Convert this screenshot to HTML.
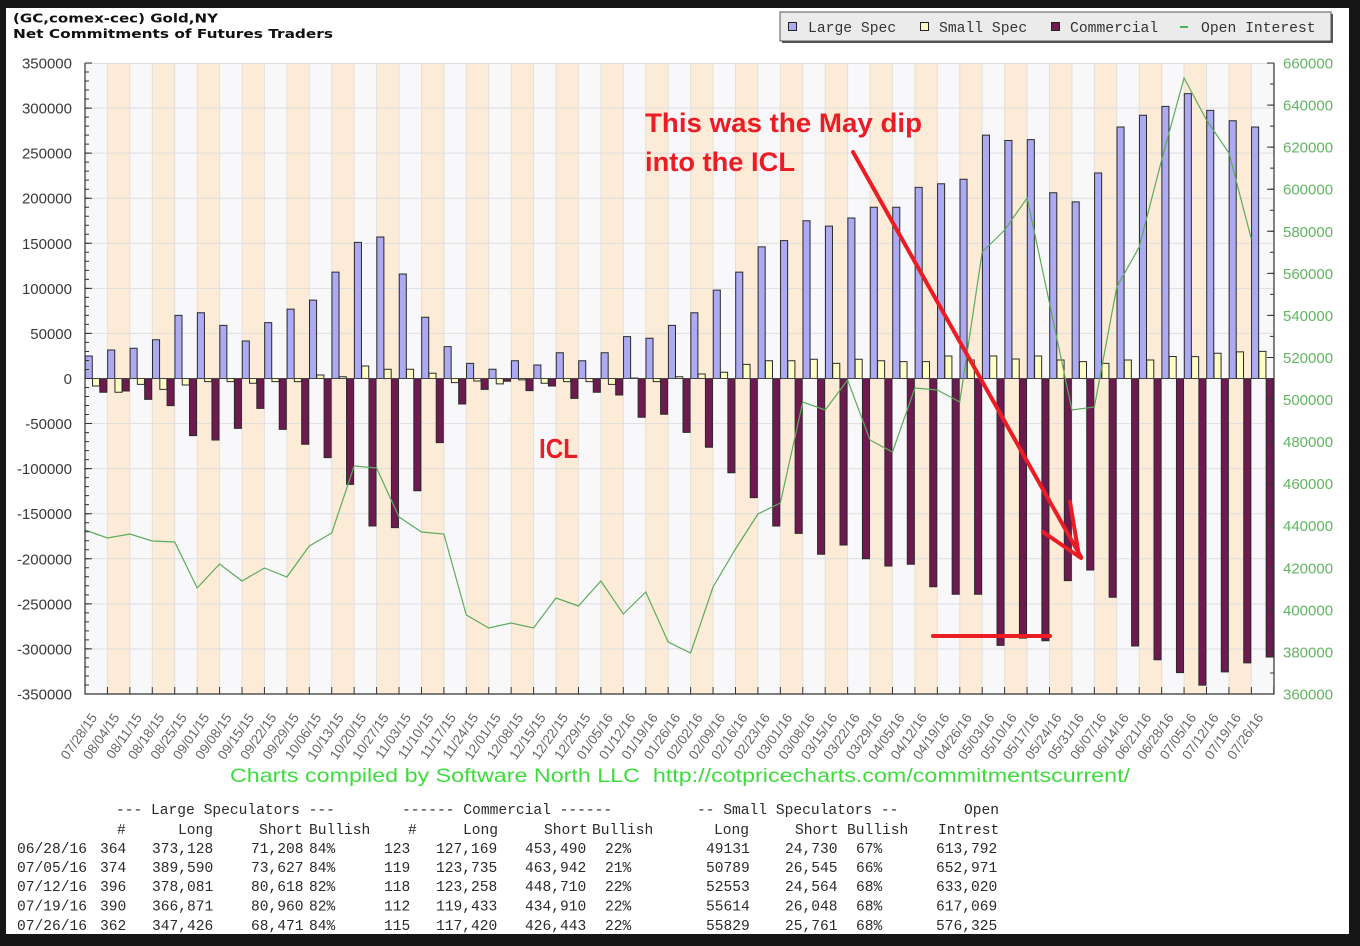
<!DOCTYPE html>
<html><head><meta charset="utf-8"><style>
html,body{margin:0;padding:0;background:#161616;}
svg{display:block}
.b rect{vector-effect:non-scaling-stroke;stroke:#2a2a2a;stroke-width:1}
.oi{vector-effect:non-scaling-stroke}
text{font-family:"Liberation Sans",sans-serif}
.mono{font-family:"Liberation Mono",monospace}
</style></head><body>
<svg width="1360" height="946" viewBox="0 0 1360 946" xmlns="http://www.w3.org/2000/svg">
<rect x="0" y="0" width="1360" height="946" fill="#161616"/>
<rect x="6" y="8" width="1343" height="926" fill="#ffffff"/>

<!-- title -->
<text x="13" y="22.5" style="font-family:'DejaVu Sans',sans-serif" font-weight="bold" font-size="12" fill="#111" textLength="205" lengthAdjust="spacingAndGlyphs">(GC,comex-cec) Gold,NY</text>
<text x="13" y="38" style="font-family:'DejaVu Sans',sans-serif" font-weight="bold" font-size="12" fill="#111" textLength="320" lengthAdjust="spacingAndGlyphs">Net Commitments of Futures Traders</text>

<!-- legend -->
<rect x="782" y="14" width="551" height="29" fill="#555"/>
<rect x="780" y="12" width="551" height="29" fill="#ebebeb" stroke="#555" stroke-width="1"/>
<rect x="788.5" y="22.5" width="8" height="8" fill="#abaaf2" stroke="#222"/>
<rect x="920.5" y="22.5" width="8" height="8" fill="#fdfdc4" stroke="#222"/>
<rect x="1051.5" y="22.5" width="8" height="8" fill="#6e1a50" stroke="#222"/>
<line x1="1180" y1="27" x2="1188" y2="27" stroke="#4caf50" stroke-width="2"/>
<g class="mono" font-size="14.7" fill="#333">
<text x="808" y="32" class="mono">Large Spec</text>
<text x="939" y="32" class="mono">Small Spec</text>
<text x="1070" y="32" class="mono">Commercial</text>
<text x="1201" y="32" class="mono">Open Interest</text>
</g>

<!-- plot background -->
<rect x="85" y="63" width="1189" height="631" fill="#f8f8fa"/>
<line x1="107.43" y1="378.5" x2="1274" y2="378.5" stroke="#fcebd6" stroke-width="631" stroke-dasharray="22.43 22.43"/>
<line x1="84.5" y1="378.5" x2="1274" y2="378.5" stroke="#e4e0da" stroke-width="631" stroke-dasharray="1 21.43"/>
<g stroke="#dedede" stroke-width="1">
<line x1="85" x2="1274" y1="63.5" y2="63.5"/>
<line x1="85" x2="1274" y1="108.07" y2="108.07"/>
<line x1="85" x2="1274" y1="153.14" y2="153.14"/>
<line x1="85" x2="1274" y1="198.21" y2="198.21"/>
<line x1="85" x2="1274" y1="243.29" y2="243.29"/>
<line x1="85" x2="1274" y1="288.36" y2="288.36"/>
<line x1="85" x2="1274" y1="333.43" y2="333.43"/>
<line x1="85" x2="1274" y1="423.57" y2="423.57"/>
<line x1="85" x2="1274" y1="468.64" y2="468.64"/>
<line x1="85" x2="1274" y1="513.71" y2="513.71"/>
<line x1="85" x2="1274" y1="558.79" y2="558.79"/>
<line x1="85" x2="1274" y1="603.86" y2="603.86"/>
<line x1="85" x2="1274" y1="648.93" y2="648.93"/>
</g>

<!-- bars -->
<g class="b" transform="translate(85 378.5) scale(22.43 -0.9014)">
<g fill="#abaaf2">
<rect x="0.01" y="0" width=".315" height="25"/>
<rect x="1.01" y="0" width=".315" height="31.6"/>
<rect x="2.01" y="0" width=".315" height="33.5"/>
<rect x="3.01" y="0" width=".315" height="43"/>
<rect x="4.01" y="0" width=".315" height="70"/>
<rect x="5.01" y="0" width=".315" height="73"/>
<rect x="6.01" y="0" width=".315" height="59"/>
<rect x="7.01" y="0" width=".315" height="41.6"/>
<rect x="8.01" y="0" width=".315" height="62"/>
<rect x="9.01" y="0" width=".315" height="77"/>
<rect x="10.01" y="0" width=".315" height="87"/>
<rect x="11.01" y="0" width=".315" height="118"/>
<rect x="12.01" y="0" width=".315" height="151"/>
<rect x="13.01" y="0" width=".315" height="157"/>
<rect x="14.01" y="0" width=".315" height="116"/>
<rect x="15.01" y="0" width=".315" height="68"/>
<rect x="16.01" y="0" width=".315" height="35.3"/>
<rect x="17.01" y="0" width=".315" height="16.8"/>
<rect x="18.01" y="0" width=".315" height="10.2"/>
<rect x="19.01" y="0" width=".315" height="19.7"/>
<rect x="20.01" y="0" width=".315" height="15"/>
<rect x="21.01" y="0" width=".315" height="28.6"/>
<rect x="22.01" y="0" width=".315" height="19.7"/>
<rect x="23.01" y="0" width=".315" height="28.6"/>
<rect x="24.01" y="0" width=".315" height="46.4"/>
<rect x="25.01" y="0" width=".315" height="44.6"/>
<rect x="26.01" y="0" width=".315" height="59"/>
<rect x="27.01" y="0" width=".315" height="73"/>
<rect x="28.01" y="0" width=".315" height="98"/>
<rect x="29.01" y="0" width=".315" height="118"/>
<rect x="30.01" y="0" width=".315" height="146"/>
<rect x="31.01" y="0" width=".315" height="153"/>
<rect x="32.01" y="0" width=".315" height="175"/>
<rect x="33.01" y="0" width=".315" height="169"/>
<rect x="34.01" y="0" width=".315" height="178"/>
<rect x="35.01" y="0" width=".315" height="190"/>
<rect x="36.01" y="0" width=".315" height="190"/>
<rect x="37.01" y="0" width=".315" height="212"/>
<rect x="38.01" y="0" width=".315" height="216"/>
<rect x="39.01" y="0" width=".315" height="221"/>
<rect x="40.01" y="0" width=".315" height="270"/>
<rect x="41.01" y="0" width=".315" height="264"/>
<rect x="42.01" y="0" width=".315" height="265"/>
<rect x="43.01" y="0" width=".315" height="206"/>
<rect x="44.01" y="0" width=".315" height="196"/>
<rect x="45.01" y="0" width=".315" height="228"/>
<rect x="46.01" y="0" width=".315" height="279"/>
<rect x="47.01" y="0" width=".315" height="292"/>
<rect x="48.01" y="0" width=".315" height="301.9"/>
<rect x="49.01" y="0" width=".315" height="316"/>
<rect x="50.01" y="0" width=".315" height="297.5"/>
<rect x="51.01" y="0" width=".315" height="285.9"/>
<rect x="52.01" y="0" width=".315" height="279"/>
</g>
<g fill="#fdfdc4">
<rect x="0.335" y="-8.3" width=".315" height="8.3"/>
<rect x="1.335" y="-15.3" width=".315" height="15.3"/>
<rect x="2.335" y="-6.5" width=".315" height="6.5"/>
<rect x="3.335" y="-12" width=".315" height="12"/>
<rect x="4.335" y="-7.2" width=".315" height="7.2"/>
<rect x="5.335" y="-3.5" width=".315" height="3.5"/>
<rect x="6.335" y="-3.5" width=".315" height="3.5"/>
<rect x="7.335" y="-5.3" width=".315" height="5.3"/>
<rect x="8.335" y="-3.5" width=".315" height="3.5"/>
<rect x="9.335" y="-3.5" width=".315" height="3.5"/>
<rect x="10.335" y="0" width=".315" height="3.9"/>
<rect x="11.335" y="0" width=".315" height="2"/>
<rect x="12.335" y="0" width=".315" height="13.9"/>
<rect x="13.335" y="0" width=".315" height="10.2"/>
<rect x="14.335" y="0" width=".315" height="10.2"/>
<rect x="15.335" y="0" width=".315" height="5.8"/>
<rect x="16.335" y="-4.6" width=".315" height="4.6"/>
<rect x="17.335" y="-2.8" width=".315" height="2.8"/>
<rect x="18.335" y="-6" width=".315" height="6"/>
<rect x="19.335" y="-1.5" width=".315" height="1.5"/>
<rect x="20.335" y="-5.3" width=".315" height="5.3"/>
<rect x="21.335" y="-3.5" width=".315" height="3.5"/>
<rect x="22.335" y="-3.5" width=".315" height="3.5"/>
<rect x="23.335" y="-6.5" width=".315" height="6.5"/>
<rect x="24.335" y="0" width=".315" height="0.5"/>
<rect x="25.335" y="-3.5" width=".315" height="3.5"/>
<rect x="26.335" y="0" width=".315" height="2"/>
<rect x="27.335" y="0" width=".315" height="5"/>
<rect x="28.335" y="0" width=".315" height="6.9"/>
<rect x="29.335" y="0" width=".315" height="15.7"/>
<rect x="30.335" y="0" width=".315" height="19.7"/>
<rect x="31.335" y="0" width=".315" height="19.7"/>
<rect x="32.335" y="0" width=".315" height="21.3"/>
<rect x="33.335" y="0" width=".315" height="16.8"/>
<rect x="34.335" y="0" width=".315" height="21.3"/>
<rect x="35.335" y="0" width=".315" height="19.7"/>
<rect x="36.335" y="0" width=".315" height="18.7"/>
<rect x="37.335" y="0" width=".315" height="18.7"/>
<rect x="38.335" y="0" width=".315" height="25"/>
<rect x="39.335" y="0" width=".315" height="20.5"/>
<rect x="40.335" y="0" width=".315" height="25"/>
<rect x="41.335" y="0" width=".315" height="21.6"/>
<rect x="42.335" y="0" width=".315" height="25"/>
<rect x="43.335" y="0" width=".315" height="20.5"/>
<rect x="44.335" y="0" width=".315" height="18.7"/>
<rect x="45.335" y="0" width=".315" height="16.8"/>
<rect x="46.335" y="0" width=".315" height="20.5"/>
<rect x="47.335" y="0" width=".315" height="20.5"/>
<rect x="48.335" y="0" width=".315" height="24.4"/>
<rect x="49.335" y="0" width=".315" height="24.2"/>
<rect x="50.335" y="0" width=".315" height="28"/>
<rect x="51.335" y="0" width=".315" height="29.6"/>
<rect x="52.335" y="0" width=".315" height="30.1"/>
</g>
<g fill="#6e1a50">
<rect x="0.66" y="-15.3" width=".315" height="15.3"/>
<rect x="1.66" y="-13.9" width=".315" height="13.9"/>
<rect x="2.66" y="-23.1" width=".315" height="23.1"/>
<rect x="3.66" y="-30.1" width=".315" height="30.1"/>
<rect x="4.66" y="-63.4" width=".315" height="63.4"/>
<rect x="5.66" y="-68.2" width=".315" height="68.2"/>
<rect x="6.66" y="-55.3" width=".315" height="55.3"/>
<rect x="7.66" y="-33.1" width=".315" height="33.1"/>
<rect x="8.66" y="-56.4" width=".315" height="56.4"/>
<rect x="9.66" y="-73" width=".315" height="73"/>
<rect x="10.66" y="-87.8" width=".315" height="87.8"/>
<rect x="11.66" y="-117.4" width=".315" height="117.4"/>
<rect x="12.66" y="-163.6" width=".315" height="163.6"/>
<rect x="13.66" y="-165.5" width=".315" height="165.5"/>
<rect x="14.66" y="-124.5" width=".315" height="124.5"/>
<rect x="15.66" y="-71.2" width=".315" height="71.2"/>
<rect x="16.66" y="-28.3" width=".315" height="28.3"/>
<rect x="17.66" y="-12" width=".315" height="12"/>
<rect x="18.66" y="-3" width=".315" height="3"/>
<rect x="19.66" y="-13.5" width=".315" height="13.5"/>
<rect x="20.66" y="-8.3" width=".315" height="8.3"/>
<rect x="21.66" y="-22" width=".315" height="22"/>
<rect x="22.66" y="-15.3" width=".315" height="15.3"/>
<rect x="23.66" y="-18.3" width=".315" height="18.3"/>
<rect x="24.66" y="-43" width=".315" height="43"/>
<rect x="25.66" y="-39.7" width=".315" height="39.7"/>
<rect x="26.66" y="-59.7" width=".315" height="59.7"/>
<rect x="27.66" y="-76.3" width=".315" height="76.3"/>
<rect x="28.66" y="-104.5" width=".315" height="104.5"/>
<rect x="29.66" y="-132.2" width=".315" height="132.2"/>
<rect x="30.66" y="-163.6" width=".315" height="163.6"/>
<rect x="31.66" y="-171.8" width=".315" height="171.8"/>
<rect x="32.66" y="-195" width=".315" height="195"/>
<rect x="33.66" y="-184.7" width=".315" height="184.7"/>
<rect x="34.66" y="-199.9" width=".315" height="199.9"/>
<rect x="35.66" y="-208" width=".315" height="208"/>
<rect x="36.66" y="-206" width=".315" height="206"/>
<rect x="37.66" y="-231" width=".315" height="231"/>
<rect x="38.66" y="-239.4" width=".315" height="239.4"/>
<rect x="39.66" y="-239.4" width=".315" height="239.4"/>
<rect x="40.66" y="-296" width=".315" height="296"/>
<rect x="41.66" y="-288" width=".315" height="288"/>
<rect x="42.66" y="-291" width=".315" height="291"/>
<rect x="43.66" y="-224.3" width=".315" height="224.3"/>
<rect x="44.66" y="-212.4" width=".315" height="212.4"/>
<rect x="45.66" y="-242.7" width=".315" height="242.7"/>
<rect x="46.66" y="-296.8" width=".315" height="296.8"/>
<rect x="47.66" y="-312" width=".315" height="312"/>
<rect x="48.66" y="-326.3" width=".315" height="326.3"/>
<rect x="49.66" y="-340.2" width=".315" height="340.2"/>
<rect x="50.66" y="-325.5" width=".315" height="325.5"/>
<rect x="51.66" y="-315.5" width=".315" height="315.5"/>
<rect x="52.66" y="-309" width=".315" height="309"/>
</g>
</g>

<!-- zero line -->
<line x1="85" y1="378.5" x2="1274" y2="378.5" stroke="#444" stroke-width="1"/>

<!-- open interest -->
<g transform="translate(85 0) scale(22.43 1)">
<polyline class="oi" fill="none" stroke="#5cab5c" stroke-width="1.2" points="0,530 1,538 2,534 3,541 4,542 5,588 6,564 7,581 8,568 9,577 10,546 11,533 12,466 13,468 14,517 15,532 16,534 17,615 18,628 19,623 20,628 21,598 22,606 23,581 24,614 25,592 26,642 27,653 28,587 29,549 30,514 31,503 32,402 33,410 34,380 35,440 36,452 37,388 38,390 39,402 40,252 41,230 42,198 43,303 44,410 45,407 46,287 47,247 48,160 49,78 50,120 51,153 52,239"/>
</g>

<!-- axes -->
<g stroke="#333" fill="none">
<line x1="85" y1="63" x2="85" y2="694.5" stroke-width="1.2"/>
<line x1="84.5" y1="694" x2="1274.5" y2="694" stroke-width="1.2"/>
<line x1="1274" y1="63" x2="1274" y2="694.5" stroke-width="1.2"/>
<line x1="87" y1="62.5" x2="87" y2="695" stroke-width="4" stroke-dasharray="1 8.014"/>
<line x1="88.5" y1="62.5" x2="88.5" y2="695" stroke-width="7" stroke-dasharray="1 44.07"/>
<line x1="1272" y1="62.5" x2="1272" y2="695" stroke-width="4" stroke-dasharray="1 20.033"/>
<line x1="1270.5" y1="62.5" x2="1270.5" y2="695" stroke-width="7" stroke-dasharray="1 41.067"/>
<line x1="84.5" y1="690.5" x2="1275" y2="690.5" stroke-width="7" stroke-dasharray="1 21.43"/>
</g>

<!-- left labels -->
<g font-size="15" fill="#3a3a3a" text-anchor="end">
<text x="72" y="68.5">350000</text>
<text x="72" y="113.5">300000</text>
<text x="72" y="158.6">250000</text>
<text x="72" y="203.7">200000</text>
<text x="72" y="248.8">150000</text>
<text x="72" y="293.9">100000</text>
<text x="72" y="338.9">50000</text>
<text x="72" y="384">0</text>
<text x="72" y="429.1">-50000</text>
<text x="72" y="474.1">-100000</text>
<text x="72" y="519.2">-150000</text>
<text x="72" y="564.3">-200000</text>
<text x="72" y="609.4">-250000</text>
<text x="72" y="654.4">-300000</text>
<text x="72" y="699.5">-350000</text>
</g>
<!-- right labels -->
<g font-size="15" fill="#62b462">
<text x="1283" y="68.5">660000</text>
<text x="1283" y="110.6">640000</text>
<text x="1283" y="152.6">620000</text>
<text x="1283" y="194.7">600000</text>
<text x="1283" y="236.8">580000</text>
<text x="1283" y="278.8">560000</text>
<text x="1283" y="320.9">540000</text>
<text x="1283" y="363">520000</text>
<text x="1283" y="405">500000</text>
<text x="1283" y="447.1">480000</text>
<text x="1283" y="489.2">460000</text>
<text x="1283" y="531.2">440000</text>
<text x="1283" y="573.3">420000</text>
<text x="1283" y="615.4">400000</text>
<text x="1283" y="657.4">380000</text>
<text x="1283" y="699.5">360000</text>
</g>

<!-- date labels -->
<g font-size="13.5" fill="#666" text-anchor="end">
<text transform="translate(97.7 717.5) rotate(-55)">07/28/15</text>
<text transform="translate(120.1 717.5) rotate(-55)">08/04/15</text>
<text transform="translate(142.6 717.5) rotate(-55)">08/11/15</text>
<text transform="translate(165.0 717.5) rotate(-55)">08/18/15</text>
<text transform="translate(187.4 717.5) rotate(-55)">08/25/15</text>
<text transform="translate(209.9 717.5) rotate(-55)">09/01/15</text>
<text transform="translate(232.3 717.5) rotate(-55)">09/08/15</text>
<text transform="translate(254.7 717.5) rotate(-55)">09/15/15</text>
<text transform="translate(277.1 717.5) rotate(-55)">09/22/15</text>
<text transform="translate(299.6 717.5) rotate(-55)">09/29/15</text>
<text transform="translate(322.0 717.5) rotate(-55)">10/06/15</text>
<text transform="translate(344.4 717.5) rotate(-55)">10/13/15</text>
<text transform="translate(366.9 717.5) rotate(-55)">10/20/15</text>
<text transform="translate(389.3 717.5) rotate(-55)">10/27/15</text>
<text transform="translate(411.7 717.5) rotate(-55)">11/03/15</text>
<text transform="translate(434.2 717.5) rotate(-55)">11/10/15</text>
<text transform="translate(456.6 717.5) rotate(-55)">11/17/15</text>
<text transform="translate(479.0 717.5) rotate(-55)">11/24/15</text>
<text transform="translate(501.4 717.5) rotate(-55)">12/01/15</text>
<text transform="translate(523.9 717.5) rotate(-55)">12/08/15</text>
<text transform="translate(546.3 717.5) rotate(-55)">12/15/15</text>
<text transform="translate(568.7 717.5) rotate(-55)">12/22/15</text>
<text transform="translate(591.2 717.5) rotate(-55)">12/29/15</text>
<text transform="translate(613.6 717.5) rotate(-55)">01/05/16</text>
<text transform="translate(636.0 717.5) rotate(-55)">01/12/16</text>
<text transform="translate(658.5 717.5) rotate(-55)">01/19/16</text>
<text transform="translate(680.9 717.5) rotate(-55)">01/26/16</text>
<text transform="translate(703.3 717.5) rotate(-55)">02/02/16</text>
<text transform="translate(725.7 717.5) rotate(-55)">02/09/16</text>
<text transform="translate(748.2 717.5) rotate(-55)">02/16/16</text>
<text transform="translate(770.6 717.5) rotate(-55)">02/23/16</text>
<text transform="translate(793.0 717.5) rotate(-55)">03/01/16</text>
<text transform="translate(815.5 717.5) rotate(-55)">03/08/16</text>
<text transform="translate(837.9 717.5) rotate(-55)">03/15/16</text>
<text transform="translate(860.3 717.5) rotate(-55)">03/22/16</text>
<text transform="translate(882.8 717.5) rotate(-55)">03/29/16</text>
<text transform="translate(905.2 717.5) rotate(-55)">04/05/16</text>
<text transform="translate(927.6 717.5) rotate(-55)">04/12/16</text>
<text transform="translate(950.0 717.5) rotate(-55)">04/19/16</text>
<text transform="translate(972.5 717.5) rotate(-55)">04/26/16</text>
<text transform="translate(994.9 717.5) rotate(-55)">05/03/16</text>
<text transform="translate(1017.3 717.5) rotate(-55)">05/10/16</text>
<text transform="translate(1039.8 717.5) rotate(-55)">05/17/16</text>
<text transform="translate(1062.2 717.5) rotate(-55)">05/24/16</text>
<text transform="translate(1084.6 717.5) rotate(-55)">05/31/16</text>
<text transform="translate(1107.1 717.5) rotate(-55)">06/07/16</text>
<text transform="translate(1129.5 717.5) rotate(-55)">06/14/16</text>
<text transform="translate(1151.9 717.5) rotate(-55)">06/21/16</text>
<text transform="translate(1174.3 717.5) rotate(-55)">06/28/16</text>
<text transform="translate(1196.8 717.5) rotate(-55)">07/05/16</text>
<text transform="translate(1219.2 717.5) rotate(-55)">07/12/16</text>
<text transform="translate(1241.6 717.5) rotate(-55)">07/19/16</text>
<text transform="translate(1264.1 717.5) rotate(-55)">07/26/16</text>
</g>

<!-- footer -->
<text x="230" y="782" font-size="19" fill="#3ddc3d" textLength="900" lengthAdjust="spacingAndGlyphs">Charts compiled by Software North LLC&#160; http://cotpricecharts.com/commitmentscurrent/</text>

<!-- table -->
<g class="mono" font-size="14.6" fill="#2a2a2a">
<text class="mono" y="814"><tspan x="116">--- Large Speculators ---</tspan><tspan x="402">------ Commercial ------</tspan><tspan x="697">-- Small Speculators --</tspan><tspan x="964">Open</tspan></text>
<text class="mono" y="834"><tspan x="117">#</tspan><tspan x="178">Long</tspan><tspan x="259">Short</tspan><tspan x="309">Bullish</tspan><tspan x="408">#</tspan><tspan x="463">Long</tspan><tspan x="544">Short</tspan><tspan x="592">Bullish</tspan><tspan x="714">Long</tspan><tspan x="795">Short</tspan><tspan x="847">Bullish</tspan><tspan x="938">Intrest</tspan></text>
<text class="mono" y="853"><tspan x="17">06/28/16</tspan><tspan x="100">364</tspan><tspan x="152">373,128</tspan><tspan x="251">71,208</tspan><tspan x="309">84%</tspan><tspan x="384">123</tspan><tspan x="436">127,169</tspan><tspan x="525">453,490</tspan><tspan x="605">22%</tspan><tspan x="706">49131</tspan><tspan x="785">24,730</tspan><tspan x="856">67%</tspan><tspan x="936">613,792</tspan></text>
<text class="mono" y="872"><tspan x="17">07/05/16</tspan><tspan x="100">374</tspan><tspan x="152">389,590</tspan><tspan x="251">73,627</tspan><tspan x="309">84%</tspan><tspan x="384">119</tspan><tspan x="436">123,735</tspan><tspan x="525">463,942</tspan><tspan x="605">21%</tspan><tspan x="706">50789</tspan><tspan x="785">26,545</tspan><tspan x="856">66%</tspan><tspan x="936">652,971</tspan></text>
<text class="mono" y="891"><tspan x="17">07/12/16</tspan><tspan x="100">396</tspan><tspan x="152">378,081</tspan><tspan x="251">80,618</tspan><tspan x="309">82%</tspan><tspan x="384">118</tspan><tspan x="436">123,258</tspan><tspan x="525">448,710</tspan><tspan x="605">22%</tspan><tspan x="706">52553</tspan><tspan x="785">24,564</tspan><tspan x="856">68%</tspan><tspan x="936">633,020</tspan></text>
<text class="mono" y="910.5"><tspan x="17">07/19/16</tspan><tspan x="100">390</tspan><tspan x="152">366,871</tspan><tspan x="251">80,960</tspan><tspan x="309">82%</tspan><tspan x="384">112</tspan><tspan x="436">119,433</tspan><tspan x="525">434,910</tspan><tspan x="605">22%</tspan><tspan x="706">55614</tspan><tspan x="785">26,048</tspan><tspan x="856">68%</tspan><tspan x="936">617,069</tspan></text>
<text class="mono" y="930"><tspan x="17">07/26/16</tspan><tspan x="100">362</tspan><tspan x="152">347,426</tspan><tspan x="251">68,471</tspan><tspan x="309">84%</tspan><tspan x="384">115</tspan><tspan x="436">117,420</tspan><tspan x="525">426,443</tspan><tspan x="605">22%</tspan><tspan x="706">55829</tspan><tspan x="785">25,761</tspan><tspan x="856">68%</tspan><tspan x="936">576,325</tspan></text>
</g>

<!-- red annotations -->
<g fill="#ec1c24" font-weight="bold">
<text x="645" y="132" font-size="27" textLength="277" lengthAdjust="spacingAndGlyphs">This was the May dip</text>
<text x="645" y="171" font-size="27" textLength="150" lengthAdjust="spacingAndGlyphs">into the ICL</text>
<text x="539" y="458" font-size="28" textLength="39" lengthAdjust="spacingAndGlyphs">ICL</text>
</g>
<g stroke="#ec1c24" stroke-width="4" stroke-linecap="round" fill="none">
<line x1="853" y1="152" x2="1081" y2="557"/>
<line x1="1070" y1="502" x2="1079" y2="556"/>
<line x1="1043" y1="532" x2="1081" y2="558"/>
<line x1="933" y1="636" x2="1050" y2="636"/>
</g>
</svg>
</body></html>
